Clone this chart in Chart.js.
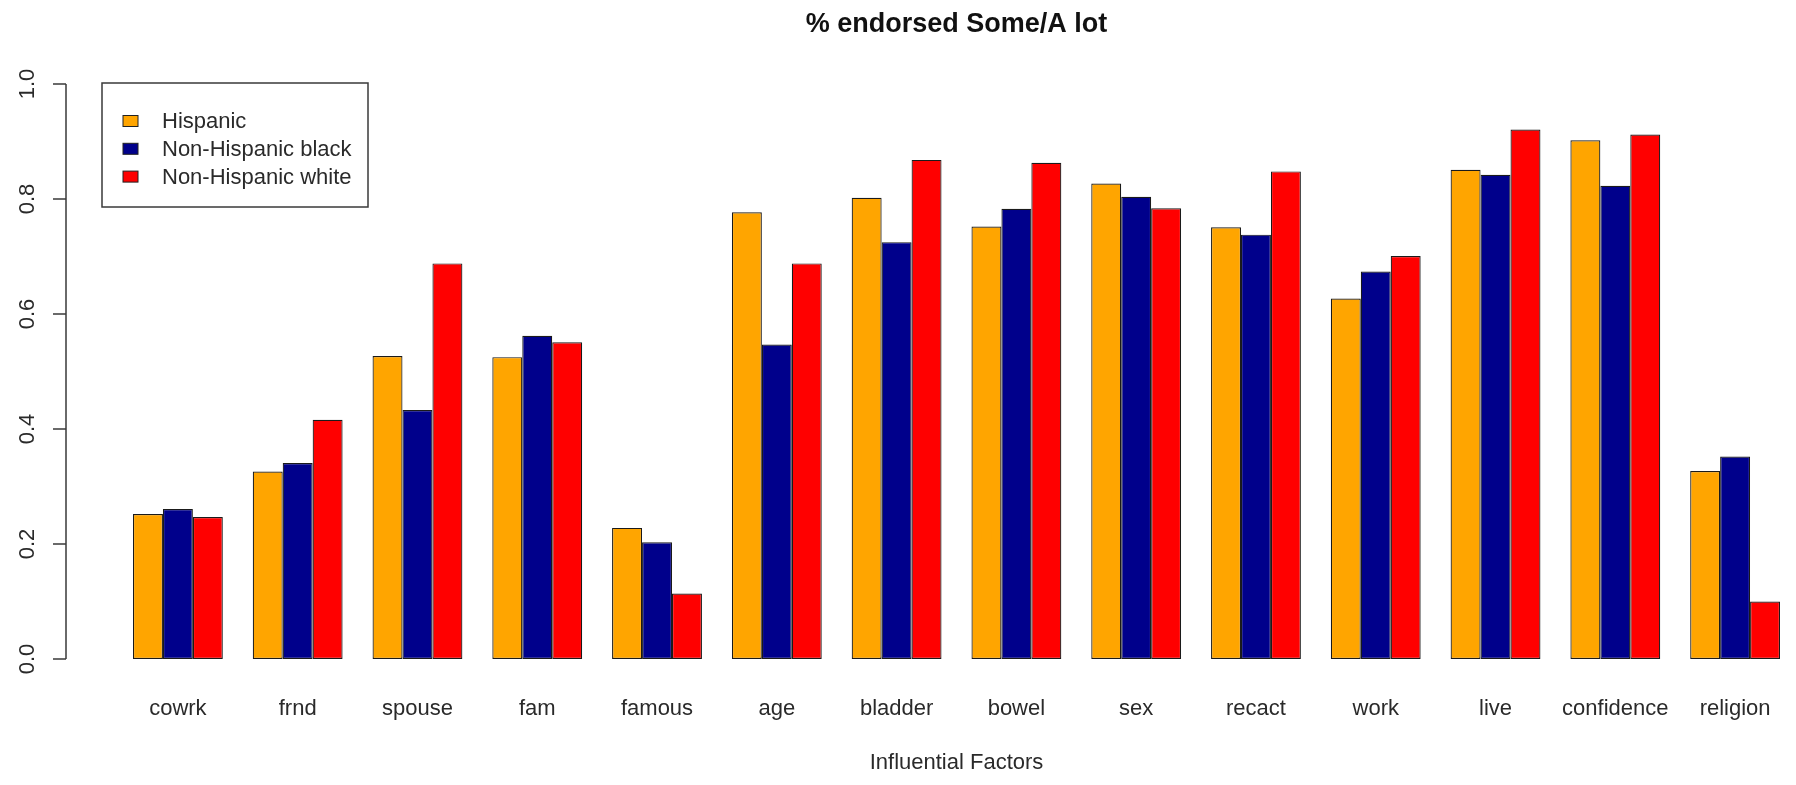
<!DOCTYPE html>
<html><head><meta charset="utf-8">
<script src="https://cdn.jsdelivr.net/npm/chart.js@4.4.1/dist/chart.umd.min.js"></script>
<style>html,body{margin:0;padding:0;background:#fff;} #wrap{width:1796px;height:785px;position:relative;}</style>
</head><body><div id="wrap"><canvas id="c"></canvas></div>
<script>
const categories = ['cowrk','frnd','spouse','fam','famous','age','bladder','bowel','sex','recact','work','live','confidence','religion'];
const hispanic = [0.252, 0.326, 0.527, 0.525, 0.228, 0.777, 0.802, 0.752, 0.827, 0.751, 0.627, 0.851, 0.902, 0.327];
const nhBlack  = [0.261, 0.341, 0.433, 0.562, 0.203, 0.547, 0.725, 0.783, 0.804, 0.738, 0.674, 0.842, 0.823, 0.352];
const nhWhite  = [0.247, 0.416, 0.688, 0.551, 0.114, 0.688, 0.868, 0.863, 0.784, 0.848, 0.701, 0.921, 0.912, 0.100];
const seriesNames = ['Hispanic', 'Non-Hispanic black', 'Non-Hispanic white'];
const seriesColors = ['#FFA500', '#00008B', '#FF0000'];
const yTicks = [0.0, 0.2, 0.4, 0.6, 0.8, 1.0];
const chartTitle = '% endorsed Some/A lot';
const xTitle = 'Influential Factors';

const FONT = "'Liberation Sans', Arial, sans-serif";
const TEXT = '#2a2a2a';

const rAxisPlugin = {
  id: 'rAxis',
  afterDraw(chart) {
    const y = chart.scales.y, ctx = chart.ctx;
    const axisX = 66;
    ctx.save();
    ctx.strokeStyle = '#3a3a3a'; ctx.lineWidth = 1.5;
    ctx.beginPath();
    ctx.moveTo(axisX, y.getPixelForValue(yTicks[0]));
    ctx.lineTo(axisX, y.getPixelForValue(yTicks[yTicks.length - 1]));
    yTicks.forEach(v => { const py = y.getPixelForValue(v); ctx.moveTo(axisX, py); ctx.lineTo(axisX - 13, py); });
    ctx.stroke();
    ctx.fillStyle = TEXT; ctx.font = '22px ' + FONT; ctx.textAlign = 'center'; ctx.textBaseline = 'middle';
    yTicks.forEach(v => {
      const py = y.getPixelForValue(v);
      ctx.save(); ctx.translate(28, py); ctx.rotate(-Math.PI / 2); ctx.fillText(v.toFixed(1), 0, 0); ctx.restore();
    });
    ctx.restore();
  }
};

const boxLegendPlugin = {
  id: 'boxLegend',
  afterDraw(chart) {
    const ctx = chart.ctx;
    const bx = 102, by = 83, bw = 266, bh = 124;
    ctx.save();
    ctx.strokeStyle = '#3a3a3a'; ctx.lineWidth = 1.5;
    ctx.strokeRect(bx, by, bw, bh);
    ctx.font = '22px ' + FONT; ctx.textAlign = 'left'; ctx.textBaseline = 'middle';
    chart.data.datasets.forEach((ds, i) => {
      const cy = 121 + i * 27.8;
      ctx.fillStyle = ds.backgroundColor;
      ctx.fillRect(123, cy - 5.5, 15, 11);
      ctx.lineWidth = 1; ctx.strokeStyle = '#222';
      ctx.strokeRect(123, cy - 5.5, 15, 11);
      ctx.fillStyle = TEXT;
      ctx.fillText(ds.label, 162, cy + 1);
    });
    ctx.restore();
  }
};

const datasets = [hispanic, nhBlack, nhWhite].map((vals, i) => ({
  label: seriesNames[i],
  data: vals,
  backgroundColor: seriesColors[i],
  borderColor: '#1a1a1a',
  borderWidth: 1.2,
  borderSkipped: false,
  categoryPercentage: 0.75,
  barPercentage: 1.0
}));

new Chart(document.getElementById('c'), {
  type: 'bar',
  data: { labels: categories, datasets },
  options: {
    responsive: true,
    maintainAspectRatio: false,
    animation: false,
    layout: { padding: { left: 118, right: 1, top: 0, bottom: 0 } },
    plugins: {
      legend: { display: false },
      tooltip: { enabled: false },
      title: {
        display: true,
        text: chartTitle,
        color: '#111',
        font: { family: FONT, size: 27, weight: 'bold' },
        padding: { top: 8, bottom: 43.6 }
      }
    },
    scales: {
      x: {
        grid: { display: false, drawTicks: false },
        border: { display: false },
        ticks: { color: TEXT, font: { family: FONT, size: 22 }, padding: 37, maxRotation: 0, autoSkip: false },
        title: { display: true, text: xTitle, color: TEXT, font: { family: FONT, size: 22 }, padding: { top: 0, bottom: 9 } },
        afterFit: (s) => { s.height = 126; s.paddingLeft = 0; s.paddingRight = 0; }
      },
      y: {
        display: false,
        min: 0,
        max: 1,
        ticks: { stepSize: 0.2 }
      }
    }
  },
  plugins: [rAxisPlugin, boxLegendPlugin]
});
</script>
</body></html>
